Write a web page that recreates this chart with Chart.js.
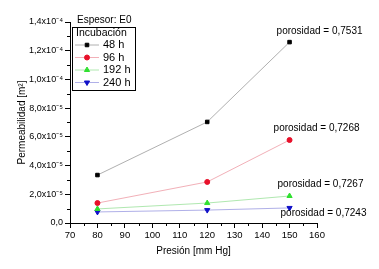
<!DOCTYPE html>
<html>
<head>
<meta charset="utf-8">
<script src="https://cdn.jsdelivr.net/npm/chart.js@4"></script>
<style>
  html, body { margin: 0; padding: 0; background: #fff; }
  #wrap { width: 379px; height: 269px; }
</style>
</head>
<body>
<div id="wrap"><canvas id="chart_permeabilidad"></canvas></div>
<script>
// values
var presion = [80, 120, 150];
var perm48 = [3.34e-5, 7.04e-5, 1.26e-4];
var perm96 = [1.39e-5, 2.86e-5, 5.78e-5];
var perm192 = [0.98e-5, 1.39e-5, 1.88e-5];
var perm240 = [0.77e-5, 0.90e-5, 1.05e-5];
var seriesLabels = ['48 h', '96 h', '192 h', '240 h'];
var porosidad = ['porosidad = 0,7531', 'porosidad = 0,7268', 'porosidad = 0,7267', 'porosidad = 0,7243'];
var yTickLabels = {
    0: '0,0', 2: '2,0x10⁻⁵', 4: '4,0x10⁻⁵', 6: '6,0x10⁻⁵', 8: '8,0x10⁻⁵',
    10: '1,0x10⁻⁴', 12: '1,2x10⁻⁴', 14: '1,4x10⁻⁴'
};

var FONT = '"Liberation Sans", Arial, sans-serif';
Chart.defaults.font.family = FONT;
Chart.defaults.color = '#000';

function pts(ys) {
    return presion.map(function (x, i) { return { x: x, y: ys[i] }; });
}

var chart_permeabilidad = new Chart(document.getElementById('chart_permeabilidad'), {
    type: 'line',
    data: {
        datasets: [
            {
                label: seriesLabels[0], data: pts(perm48),
                borderColor: '#b0b0b0', backgroundColor: '#000', pointBorderColor: '#000',
                pointStyle: 'rect', pointRadius: 2.5, borderWidth: 1
            },
            {
                label: seriesLabels[1], data: pts(perm96),
                borderColor: '#f2b0b8', backgroundColor: '#e8102a', pointBorderColor: '#e8102a',
                pointStyle: 'circle', pointRadius: 2.5, borderWidth: 1
            },
            {
                label: seriesLabels[2], data: pts(perm192),
                borderColor: '#b0e8b0', backgroundColor: '#30e030', pointBorderColor: '#30e030',
                pointStyle: 'triangle', pointRadius: 3, borderWidth: 1
            },
            {
                label: seriesLabels[3], data: pts(perm240),
                borderColor: '#b0b0e8', backgroundColor: '#1010c8', pointBorderColor: '#1010c8',
                pointStyle: 'triangle', pointRotation: 180, pointRadius: 3, borderWidth: 1
            }
        ]
    },
    options: {
        animation: false,
        responsive: true,
        maintainAspectRatio: false,
        layout: { padding: { left: 12, right: 62, top: 22, bottom: 8 } },
        plugins: {
            legend: { display: false },
            tooltip: { enabled: false }
        },
        scales: {
            x: {
                type: 'linear',
                min: 70,
                max: 160,
                ticks: { stepSize: 10, font: { size: 9.5 }, padding: 2 },
                grid: { drawOnChartArea: false, drawTicks: true, tickLength: 5, tickColor: '#000' },
                border: { display: true, color: '#000', width: 1 },
                title: { display: true, text: 'Presión [mm Hg]', font: { size: 10 }, padding: { top: 3 } },
                afterFit: function (s) { s.height = 38; }
            },
            y: {
                type: 'linear',
                min: 0,
                max: 1.4e-4,
                ticks: {
                    stepSize: 2e-5,
                    font: { size: 9 },
                    padding: 2,
                    callback: function (v) { return yTickLabels[Math.round(v * 1e5)]; }
                },
                grid: { drawOnChartArea: false, drawTicks: true, tickLength: 5, tickColor: '#000' },
                border: { display: true, color: '#000', width: 1 },
                title: { display: true, text: 'Permeabilidad [m²]', font: { size: 10 }, padding: { bottom: 2 } },
                afterFit: function (s) { s.width = 58; }
            }
        }
    },
    plugins: [{
        id: 'extras',
        beforeDraw: function (chart) {
            var ctx = chart.ctx;
            ctx.save();
            ctx.fillStyle = 'white';
            ctx.fillRect(0, 0, chart.width, chart.height);
            ctx.restore();
        },
        afterDraw: function (chart) {
            var ctx = chart.ctx;
            var xs = chart.scales.x, ys = chart.scales.y;
            ctx.save();
            // minor ticks
            ctx.strokeStyle = '#000';
            ctx.lineWidth = 1;
            ctx.beginPath();
            for (var v = 75; v < 160; v += 10) {
                var px = Math.round(xs.getPixelForValue(v)) + 0.5;
                ctx.moveTo(px, ys.bottom);
                ctx.lineTo(px, ys.bottom + 3);
            }
            for (var k = 1; k < 14; k += 2) {
                var py = Math.round(ys.getPixelForValue(k * 1e-5)) + 0.5;
                ctx.moveTo(xs.left, py);
                ctx.lineTo(xs.left - 3, py);
            }
            ctx.stroke();

            // porosity labels next to the last point of each series
            var offs = [[30, -11, 'center'], [27, -12, 'center'], [-12, -12, 'left'], [-9, 5, 'left']];
            ctx.font = '10px ' + FONT;
            ctx.fillStyle = '#000';
            ctx.textBaseline = 'middle';
            chart.data.datasets.forEach(function (ds, i) {
                var p = ds.data[ds.data.length - 1];
                var px = xs.getPixelForValue(p.x), py = ys.getPixelForValue(p.y);
                ctx.textAlign = offs[i][2];
                ctx.fillText(porosidad[i], px + offs[i][0], py + offs[i][1]);
            });

            // legend box
            var lx = xs.left + 2, ly = 27;
            ctx.textAlign = 'left';
            ctx.fillText('Espesor: E0', lx + 5, 20);
            ctx.strokeRect(lx + 0.5, ly + 0.5, 63, 63);
            ctx.font = '10.5px ' + FONT;
            ctx.fillText('Incubación', lx + 4, ly + 6);
            ctx.font = '11px ' + FONT;
            chart.data.datasets.forEach(function (ds, i) {
                var yy = ly + 18 + i * 12.5;
                ctx.strokeStyle = ds.borderColor;
                ctx.beginPath();
                ctx.moveTo(lx + 3, yy);
                ctx.lineTo(lx + 27, yy);
                ctx.stroke();
                ctx.fillStyle = ds.backgroundColor;
                ctx.strokeStyle = ds.pointBorderColor;
                Chart.helpers.drawPoint(ctx, {
                    pointStyle: ds.pointStyle, radius: ds.pointRadius,
                    rotation: ds.pointRotation || 0, borderWidth: 1
                }, lx + 15, yy);
                ctx.fillStyle = '#000';
                ctx.fillText(ds.label, lx + 31, yy);
            });
            ctx.restore();
        }
    }]
});
</script>
</body>
</html>
